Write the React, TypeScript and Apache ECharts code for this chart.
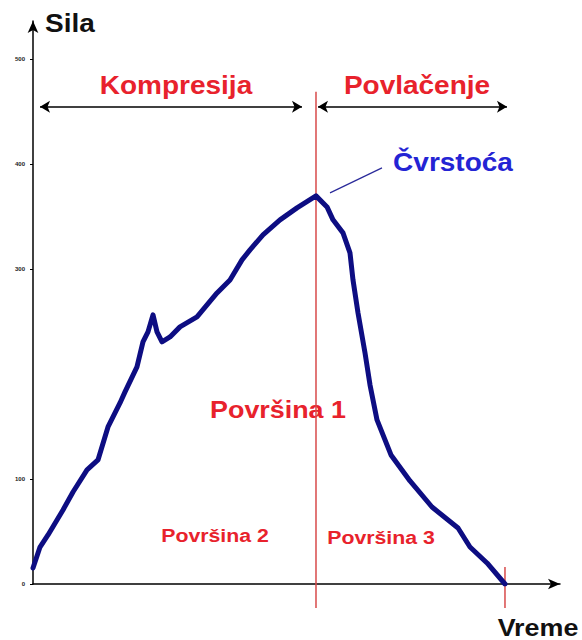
import React, { useEffect, useRef } from "react";
import * as echarts from "echarts";

// Force curve: [time, force]
const curveTime = [0, 1.33, 2.85, 5.69, 7.59, 10.25, 12.33, 14.23, 16.51, 17.46, 19.73, 20.87, 21.82, 22.77, 23.53, 24.48, 26.0, 27.89, 31.12, 34.92, 37.38, 39.66, 41.18, 43.64, 46.87, 50.09, 53.7, 55.79, 56.93, 58.82, 60.15, 60.72, 61.67, 63.0, 63.95, 65.28, 67.93, 71.54, 75.71, 80.65, 82.92, 86.15, 89.56];
const curveForce = [15.2, 35.2, 46.7, 70.5, 87.6, 108.6, 118.1, 149.5, 172.4, 182.9, 206.7, 230.5, 240.0, 256.2, 240.0, 230.5, 235.2, 244.8, 254.3, 277.1, 289.5, 308.6, 318.1, 332.4, 346.7, 358.1, 369.5, 359.0, 346.7, 334.3, 315.2, 289.5, 258.1, 220.0, 189.5, 156.2, 122.9, 98.1, 73.3, 53.3, 35.2, 20.0, 0];

const yTickValues = [0, 100, 300, 400, 500];
const yTickLabels = ["0", "100", "300", "400", "500"];

// Annotation values (data units)
const peakTime = 53.7;
const endTime = 89.56;
const redTop = 468.6;
const redBottom = -22.9;
const endRedTop = 16.2;
const arrowLevel = 454.3;
const compressionRange = [1.33, 51.04];
const pullRange = [54.08, 89.94];
const leaderFrom = [56.36, 372.4];
const leaderTo = [66.22, 396.2];

const FONT = '"Liberation Sans", Arial, sans-serif';
const RED = "#e8222c";

export default function App() {
  const ref = useRef<HTMLDivElement>(null);
  useEffect(() => {
    document.body.style.margin = "0";
    const chart = echarts.init(ref.current!, null, { renderer: "svg" });
    const curve = curveTime.map((t, i) => [t, curveForce[i]]);
    const txt = (text: string, x: number, y: number, size: number, color: string, align = "center") => ({
      type: "text",
      x,
      y,
      scaleX: 1.12,
      silent: true,
      style: {
        text,
        fill: color,
        font: `bold ${size}px ${FONT}`,
        textAlign: align,
        textVerticalAlign: "middle",
      },
    });
    chart.setOption({
      animation: false,
      backgroundColor: "#ffffff",
      grid: { left: 33, right: 22, top: 21, bottom: 56 },
      xAxis: {
        type: "value",
        min: 0,
        max: 100,
        axisLine: {
          show: true,
          symbol: ["none", "arrow"],
          symbolSize: [8, 12],
          lineStyle: { color: "#000", width: 1.5 },
        },
        axisTick: { show: false },
        axisLabel: { show: false },
        splitLine: { show: false },
      },
      yAxis: {
        type: "value",
        min: 0,
        max: 536,
        axisLine: {
          show: true,
          symbol: ["none", "arrow"],
          symbolSize: [8, 12],
          lineStyle: { color: "#000", width: 1.5 },
        },
        axisTick: { show: true, customValues: yTickValues, length: 3, lineStyle: { color: "#000" } },
        axisLabel: {
          show: true,
          customValues: yTickValues,
          formatter: (v: number) => {
            const i = yTickValues.indexOf(v);
            return i >= 0 ? yTickLabels[i] : "";
          },
          fontSize: 6,
          fontWeight: "bold",
          color: "#222",
          margin: 8,
          fontFamily: FONT,
        },
        splitLine: { show: false },
      },
      series: [
        {
          type: "line",
          data: [
            [peakTime, redTop],
            [peakTime, redBottom],
          ],
          clip: false,
          showSymbol: false,
          silent: true,
          lineStyle: { color: "#d84a4a", width: 1.5 },
          z: 1,
        },
        {
          type: "line",
          data: [
            [endTime, endRedTop],
            [endTime, redBottom],
          ],
          clip: false,
          showSymbol: false,
          silent: true,
          lineStyle: { color: "#d84a4a", width: 1.5 },
          z: 1,
        },
        {
          type: "line",
          data: [leaderFrom, leaderTo],
          showSymbol: false,
          silent: true,
          lineStyle: { color: "#2a2a9a", width: 1.2 },
          z: 2,
        },
        {
          type: "line",
          data: curve,
          showSymbol: false,
          silent: true,
          smooth: false,
          lineStyle: { color: "#0d0d82", width: 5, join: "round", cap: "round" },
          z: 3,
          markLine: {
            silent: true,
            symbol: ["arrow", "arrow"],
            symbolSize: [9, 10],
            label: { show: false },
            lineStyle: { color: "#000", width: 1.5, type: "solid" },
            data: [
              [{ coord: [compressionRange[0], arrowLevel] }, { coord: [compressionRange[1], arrowLevel] }],
              [{ coord: [pullRange[0], arrowLevel] }, { coord: [pullRange[1], arrowLevel] }],
            ],
          },
        },
      ],
      graphic: [
        txt("Sila", 45, 24, 25, "#111", "left"),
        txt("Vreme", 538, 628, 24, "#111"),
        txt("Kompresija", 176, 86, 25, RED),
        txt("Povlačenje", 417, 86, 25, RED),
        txt("Čvrstoća", 453, 163, 25, "#2424d4"),
        txt("Površina 1", 278, 410, 24, RED),
        txt("Površina 2", 215, 535, 19, RED),
        txt("Površina 3", 381, 537, 19, RED),
      ],
    });
    return () => chart.dispose();
  }, []);
  return <div ref={ref} style={{ width: 582, height: 640 }} />;
}
